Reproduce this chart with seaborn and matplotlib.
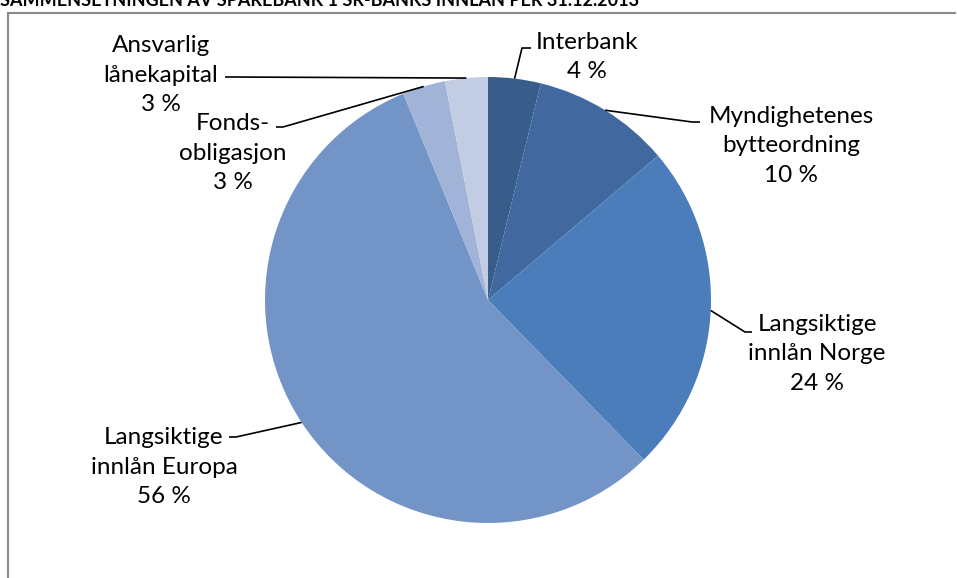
import matplotlib
matplotlib.use("Agg")
import matplotlib.pyplot as plt
import numpy as np
import seaborn as sns

# data
categories = ["Interbank", "Myndighetenes\nbytteordning", "Langsiktige\ninnlån Norge",
              "Langsiktige\ninnlån Europa", "Fonds-\nobligasjon", "Ansvarlig\nlånekapital"]
shares = [3.8, 10.0, 23.9, 56.1, 3.1, 3.1]
colors = ["#385d8a", "#41699f", "#4a7dba", "#7394c7", "#a1b4d7", "#c2cde4"]
title = "SAMMENSETNINGEN AV SPAREBANK 1 SR-BANKS INNLÅN PER 31.12.2013"

# label layout in pixels from the top left corner
label_centre = [(587, 57), (791, 146), (817, 354), (164, 467), (233, 153), (161, 75)]
label_elbow = [((522, 48), (531, 48)), ((692, 122), (700, 122)), ((745, 332), (752, 332)),
               ((236, 437), (229, 437)), ((283, 127), (276, 127)), ((232, 77), (225, 77))]

W, H = 957, 578

sns.set_theme(style="white")
plt.rcParams["font.family"] = ["Lato", "DejaVu Sans"]

fig = plt.figure(figsize=(W / 100, H / 100), dpi=100)
ax = fig.add_axes([0, 0, 1, 1])
ax.axis("off")

centre = (488, H - 300)
radius = 223
wedges, _ = ax.pie(shares, colors=sns.color_palette(colors), startangle=90, counterclock=False,
                   center=centre, radius=radius, wedgeprops=dict(linewidth=0))
ax.set_xlim(0, W)
ax.set_ylim(0, H)
ax.set_aspect("equal")
ax.set_frame_on(False)

total = sum(shares)
for w, name, share, (tx, ty), (e1, e2) in zip(wedges, categories, shares, label_centre, label_elbow):
    mid = np.deg2rad((w.theta1 + w.theta2) / 2)
    ex = centre[0] + radius * np.cos(mid)
    ey = centre[1] + radius * np.sin(mid)
    ax.plot([ex, e1[0], e2[0]], [ey, H - e1[1], H - e2[1]], color="black", lw=1.2,
            solid_capstyle="butt")
    pct = round(share / total * 100)
    ax.text(tx, H - ty, f"{name}\n{pct} %", ha="center", va="center", fontsize=17.5,
            linespacing=1.5, color="black")

# chart frame (only top and left edges show in the source picture)
ax.plot([956, 8, 8], [H - 13, H - 13, 0], color="#8a8a8a", lw=1.5,
        solid_capstyle="butt", solid_joinstyle="miter")

ax.text(0, H - 6, title, ha="left", va="baseline", fontsize=13, fontweight="bold", color="black")

plt.savefig("out.png", dpi=100)
plt.close()
